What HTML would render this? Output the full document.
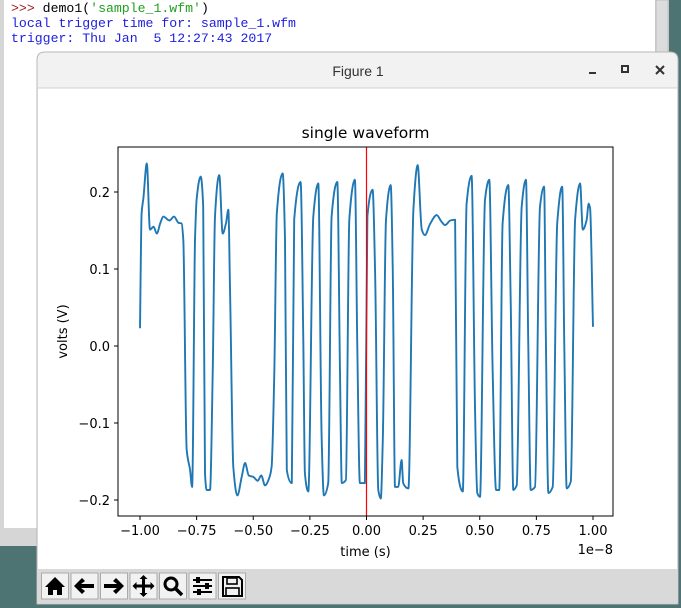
<!DOCTYPE html>
<html><head><meta charset="utf-8"><style>
html,body{margin:0;padding:0;width:681px;height:608px;overflow:hidden;background:#4d7373;}
svg{display:block}
</style></head><body>
<svg width="681" height="608" xmlns="http://www.w3.org/2000/svg">
<g>
<rect x="0" y="0" width="669" height="546" fill="#d6d6d6"/>
<rect x="4" y="0" width="651" height="528" fill="#ffffff"/>
<rect x="656" y="0" width="12" height="546" fill="#dcdcdc" stroke="#bbb" stroke-width="1"/>
<g font-family="Liberation Mono, monospace" font-size="13.2" style="white-space:pre">
<text x="11" y="12" xml:space="preserve"><tspan fill="#a02020">&gt;&gt;&gt;</tspan><tspan fill="#000"> demo1(</tspan><tspan fill="#20a020">'sample_1.wfm'</tspan><tspan fill="#000">)</tspan></text>
<text x="11" y="27" fill="#2020e0" xml:space="preserve">local trigger time for: sample_1.wfm</text>
<text x="11" y="42" fill="#2020e0" xml:space="preserve">trigger: Thu Jan  5 12:27:43 2017</text>
</g>
</g>
<g>
<path d="M37 60 Q37 52 45 52 L670 52 Q678 52 678 60 L678 604 L37 604 Z" fill="#f2f2f2" stroke="#b8b8b8"/>
<rect x="38" y="88" width="639" height="481" fill="#ffffff"/>
<line x1="38" y1="88" x2="677" y2="88" stroke="#d0d0d0"/>
<text x="358" y="76" font-family="Liberation Sans, sans-serif" font-size="14" fill="#333" text-anchor="middle">Figure 1</text>
<rect x="589" y="72" width="7" height="2" fill="#333"/>
<rect x="622" y="66" width="6" height="6" fill="none" stroke="#333" stroke-width="2"/>
<path d="M656 66 L664 74 M664 66 L656 74" stroke="#333" stroke-width="2"/>
<rect x="38" y="569" width="639" height="34" fill="#d9d9d9"/>
</g>
<g>
<g><rect x="41.5" y="573" width="27" height="26" fill="#f2f2f2" stroke="#aaa"/><path d="M55 577 L45 587 L48 587 L48 595 L53 595 L53 590 L57 590 L57 595 L62 595 L62 587 L65 587 Z" fill="#000"/></g>
<g><rect x="71" y="573" width="27" height="26" fill="#f2f2f2" stroke="#aaa"/><path d="M74 586 L82 578 L85 581 L81 584 L94 584 L94 588 L81 588 L85 591 L82 594 Z" fill="#000"/></g>
<g><rect x="100.5" y="573" width="27" height="26" fill="#f2f2f2" stroke="#aaa"/><path d="M124 586 L116 578 L113 581 L117 584 L104 584 L104 588 L117 588 L113 591 L116 594 Z" fill="#000"/></g>
<g><rect x="130" y="573" width="27" height="26" fill="#f2f2f2" stroke="#aaa"/><path d="M143.5 575 L139.5 579 L142 579 L142 584.5 L136.5 584.5 L136.5 582 L132.5 586 L136.5 590 L136.5 587.5 L142 587.5 L142 593 L139.5 593 L143.5 597 L147.5 593 L145 593 L145 587.5 L150.5 587.5 L150.5 590 L154.5 586 L150.5 582 L150.5 584.5 L145 584.5 L145 579 L147.5 579 Z" fill="#000"/></g>
<g><rect x="159.5" y="573" width="27" height="26" fill="#f2f2f2" stroke="#aaa"/><circle cx="171" cy="584" r="6" fill="none" stroke="#000" stroke-width="3"/><line x1="175" y1="588" x2="182" y2="595" stroke="#000" stroke-width="3.5"/></g>
<g><rect x="189" y="573" width="27" height="26" fill="#f2f2f2" stroke="#aaa"/><path d="M193 580 H212 M193 586 H212 M193 592 H212" stroke="#000" stroke-width="2"/><rect x="196" y="577" width="4" height="6" fill="#000"/><rect x="205" y="583" width="4" height="6" fill="#000"/><rect x="197" y="589" width="4" height="6" fill="#000"/></g>
<g><rect x="218.5" y="573" width="27" height="26" fill="#f2f2f2" stroke="#aaa"/><path d="M223 577 H239 L242 580 V596 H223 Z" fill="none" stroke="#000" stroke-width="2"/><rect x="227" y="578" width="10" height="6" fill="none" stroke="#000" stroke-width="1.6"/><rect x="226" y="588" width="13" height="8" fill="none" stroke="#000" stroke-width="1.6"/></g>
</g>
<g id="chart" font-family="DejaVu Sans, Liberation Sans, sans-serif" font-size="13"></g>
</svg>
<script>
const times = [-1.0,-0.993,-0.985,-0.97,-0.956,-0.94,-0.926,-0.91,-0.897,-0.87,-0.85,-0.83,-0.816,-0.809,-0.794,-0.779,-0.77,-0.757,-0.75,-0.732,-0.721,-0.713,-0.706,-0.691,-0.679,-0.669,-0.65,-0.635,-0.62,-0.61,-0.603,-0.588,-0.57,-0.551,-0.536,-0.52,-0.5,-0.48,-0.465,-0.448,-0.43,-0.419,-0.407,-0.396,-0.37,-0.36,-0.352,-0.33,-0.319,-0.291,-0.279,-0.272,-0.257,-0.235,-0.213,-0.198,-0.188,-0.169,-0.154,-0.129,-0.117,-0.109,-0.091,-0.076,-0.051,-0.041,-0.029,-0.007,0.004,0.027,0.038,0.052,0.063,0.072,0.086,0.107,0.116,0.126,0.14,0.155,0.162,0.185,0.207,0.226,0.244,0.258,0.28,0.31,0.33,0.347,0.37,0.391,0.401,0.425,0.442,0.464,0.479,0.489,0.501,0.523,0.542,0.557,0.572,0.586,0.601,0.626,0.637,0.648,0.663,0.685,0.704,0.714,0.725,0.744,0.766,0.784,0.792,0.803,0.822,0.842,0.864,0.873,0.884,0.902,0.921,0.943,0.955,0.972,0.981,0.987,1.0];
const volts = [0.023,0.172,0.192,0.237,0.151,0.155,0.146,0.160,0.168,0.163,0.168,0.160,0.159,0.138,-0.135,-0.161,-0.183,0.138,0.190,0.220,0.181,-0.165,-0.187,-0.187,-0.035,0.168,0.222,0.146,0.160,0.177,0.082,-0.157,-0.194,-0.170,-0.152,-0.168,-0.170,-0.175,-0.168,-0.181,-0.172,-0.157,-0.035,0.172,0.224,0.138,-0.161,-0.178,0.164,0.213,0.008,-0.165,-0.189,0.168,0.211,-0.122,-0.194,-0.178,0.168,0.213,-0.035,-0.178,-0.174,0.164,0.216,0.008,-0.178,-0.178,0.168,0.203,0.095,-0.187,-0.198,-0.122,0.164,0.209,0.095,-0.183,-0.183,-0.148,-0.178,-0.185,0.177,0.235,0.151,0.144,0.158,0.170,0.162,0.157,0.163,0.164,-0.157,-0.189,0.185,0.221,-0.079,-0.191,-0.196,0.190,0.216,-0.035,-0.187,-0.187,0.159,0.209,0.051,-0.187,-0.181,0.181,0.216,0.008,-0.187,-0.183,0.181,0.207,0.008,-0.191,-0.183,0.159,0.207,0.008,-0.185,-0.176,0.164,0.211,0.151,0.164,0.185,0.179,0.025];
const xTicks = [-1.0,-0.75,-0.5,-0.25,0,0.25,0.5,0.75,1.0];
const xTickLabels = ["\u22121.00","\u22120.75","\u22120.50","\u22120.25","0.00","0.25","0.50","0.75","1.00"];
const yTicks = [-0.2,-0.1,0,0.1,0.2];
const yTickLabels = ["\u22120.2","\u22120.1","0.0","0.1","0.2"];
const triggerTime = [0];

const NS="http://www.w3.org/2000/svg";
const L=118,R=613,T=147,B=516;
function xs(t){return 366.5+t*226.5;}
function ys(v){return 346-v*770;}
const g=document.getElementById('chart');
function mk(tag,attrs,parent){const e=document.createElementNS(NS,tag);for(const k in attrs)e.setAttribute(k,attrs[k]);(parent||g).appendChild(e);return e;}

const ttl=mk('text',{x:(L+R)/2,y:138,'text-anchor':'middle','font-size':'15.5',fill:'#000'});ttl.textContent='single waveform';



function monotonePath(px,py){
  const n=px.length,dx=[],m=[],s=[];
  for(let i=0;i<n-1;i++){dx[i]=px[i+1]-px[i];s[i]=(py[i+1]-py[i])/dx[i];}
  m[0]=s[0];m[n-1]=s[n-2];
  for(let i=1;i<n-1;i++){m[i]=(s[i-1]*s[i]<=0)?0:3*(dx[i-1]+dx[i])/((2*dx[i]+dx[i-1])/s[i-1]+(dx[i]+2*dx[i-1])/s[i]);}
  let d='M'+px[0].toFixed(1)+' '+py[0].toFixed(1);
  for(let i=0;i<n-1;i++){const h=dx[i]/3;
    d+=' C'+(px[i]+h).toFixed(1)+' '+(py[i]+m[i]*h).toFixed(1)+' '+(px[i+1]-h).toFixed(1)+' '+(py[i+1]-m[i+1]*h).toFixed(1)+' '+px[i+1].toFixed(1)+' '+py[i+1].toFixed(1);}
  return d;
}
const line=mk('path',{d:monotonePath(times.map(xs),volts.map(ys)),fill:'none',stroke:'#1f77b4','stroke-width':'1.9','stroke-linejoin':'round'});



triggerTime.forEach(t=>{const tl=mk('line',{x1:xs(t),x2:xs(t),y1:T,y2:B,stroke:'#ff0000','stroke-width':'1.2'});

});

const frame=mk('rect',{x:L,y:T,width:R-L,height:B-T,fill:'none',stroke:'#000','stroke-width':'1'});



xTicks.forEach((t,i)=>{const x=xs(t);mk('line',{x1:x,x2:x,y1:B,y2:B+4,stroke:'#000'});
const tx=mk('text',{x:x,y:B+19,'text-anchor':'middle',fill:'#000'});tx.textContent=xTickLabels[i];

});
yTicks.forEach((v,i)=>{const y=ys(v);mk('line',{x1:L-4,x2:L,y1:y,y2:y,stroke:'#000'});
const tx=mk('text',{x:L-8,y:y+5,'text-anchor':'end',fill:'#000'});tx.textContent=yTickLabels[i];

});

const xl=mk('text',{x:(L+R)/2,y:556,'text-anchor':'middle',fill:'#000'});xl.textContent='time (s)';


const off=mk('text',{x:R,y:554,'text-anchor':'end',fill:'#000'});off.textContent='1e\u22128';


const yl=mk('text',{x:0,y:0,'text-anchor':'middle',fill:'#000',transform:'translate(67,'+((T+B)/2)+') rotate(-90)'});yl.textContent='volts (V)';


</script>
</body></html>
